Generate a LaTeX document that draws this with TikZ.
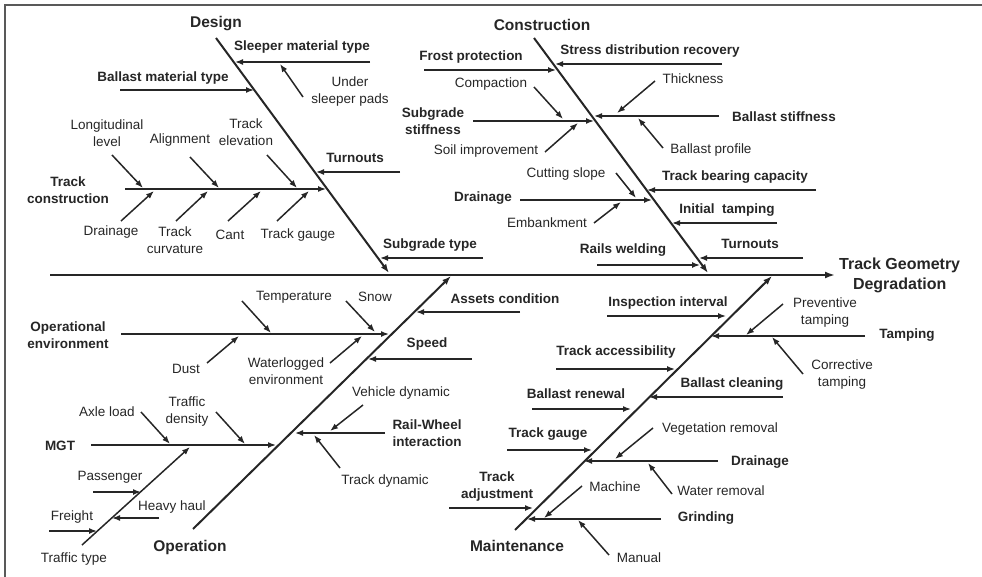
\documentclass[tikz,border=0pt]{standalone}
\usepackage{fontspec}
\setmainfont{Liberation Sans}
\usetikzlibrary{arrows.meta}
\definecolor{ink}{gray}{0.15}

\begin{document}
\begin{tikzpicture}[x=1pt,y=-1pt]

  \tikzset{
    spine/.style  = {line width=2.2pt, draw=ink, -{Latex[length=10pt,width=7pt]}},
    bone/.style   = {line width=2pt, draw=ink, -{Latex[length=9pt,width=6.5pt]}},
    cause/.style  = {line width=1.5pt, draw=ink, -{Latex[length=8pt,width=6pt]}},
    effect/.style = {font=\fontsize{16}{20}\selectfont\bfseries, align=center,
                     text=ink, inner sep=0pt},
    cat/.style    = {font=\fontsize{15.5}{18}\selectfont\bfseries, text=ink,
                     inner sep=0pt},
    big/.style    = {font=\fontsize{13.5}{17}\selectfont\bfseries, align=center,
                     text=ink, inner sep=0pt},
    small/.style  = {font=\fontsize{13.5}{17}\selectfont, align=center,
                     text=ink, inner sep=0pt},
  }

  \useasboundingbox (0,0) rectangle (982,577);
  \draw[line width=1.5pt, black!65] (5,577) -- (5,5) -- (982,5);

  % ---- spine and effect -------------------------------------------------
  \coordinate (tail) at (50,275);
  \coordinate (head) at (835,275);
  \draw[spine] (tail) -- (head);
  \node[effect,anchor=west] (effect) at (839,275) {Track Geometry\\Degradation};

  % ---- the four bones ---------------------------------------------------
  \foreach \n/\a/\b/\t/\p in {%
    design/{216,38}/{389,273}/Design/{216,24},
    constr/{534,38}/{708,273}/Construction/{542,25},
    oper/{193,529}/{451,276}/Operation/{190,547},
    maint/{515,530}/{772,276}/Maintenance/{517,546}%
  }{
    \coordinate (\n-s) at (\a);
    \coordinate (\n-e) at (\b);
    \draw[bone] (\n-s) -- (\n-e);
    \node[cat] (\n) at (\p) {\t};
  }

  % ---- main causes (bold) -----------------------------------------------
  \foreach \n/\a/\b/\t/\p in {%
    slpmat/{370,62}/{235,62}/{Sleeper material type}/{302,47},
    blsmat/{120,90}/{254,90}/{Ballast material type}/{163,78},
    turn-d/{400,172}/{316,172}/{Turnouts}/{355,158},
    trkcon/{125,189}/{326,189}/{Track\\construction}/{68,190},
    sgtype/{483,258}/{380,258}/{Subgrade type}/{430,245},
    stress/{722,64}/{555,64}/{Stress distribution recovery}/{650,51},
    frost/{424,70}/{556,70}/{Frost protection}/{471,57},
    sgstiff/{473,121}/{594,121}/{Subgrade\\stiffness}/{433,121},
    blstiff/{719,116}/{594,116}/{Ballast stiffness}/{784,117},
    drain-c/{520,200}/{652,200}/{Drainage}/{483,198},
    bearing/{816,190}/{647,190}/{Track bearing capacity}/{735,177},
    inittamp/{777,223}/{672,223}/{Initial\ \ tamping}/{727,210},
    turn-c/{803,258}/{699,258}/{Turnouts}/{750,244},
    welding/{597,265}/{700,265}/{Rails welding}/{623,250},
    assets/{520,312}/{416,312}/{Assets condition}/{505,299},
    speed/{472,359}/{368,359}/{Speed}/{427,344},
    openv/{121,334}/{389,334}/{Operational\\environment}/{68,335},
    mgt/{91,445}/{276,445}/{MGT}/{60,446},
    railwh/{385,433}/{295,433}/{Rail-Wheel\\interaction}/{427,433},
    inspect/{607,316}/{726,316}/{Inspection interval}/{668,303},
    tamping/{865,336}/{711,336}/{Tamping}/{907,335},
    access/{556,369}/{675,369}/{Track accessibility}/{616,352},
    bclean/{783,397}/{649,397}/{Ballast cleaning}/{732,384},
    brenew/{532,409}/{631,409}/{Ballast renewal}/{576,394},
    gauge-m/{507,450}/{592,450}/{Track gauge}/{548,434},
    drain-m/{718,461}/{584,461}/{Drainage}/{760,462},
    adjust/{449,508}/{533,508}/{Track\\adjustment}/{497,487},
    grind/{661,519}/{527,519}/{Grinding}/{706,518}%
  }{
    \coordinate (\n-s) at (\a);
    \coordinate (\n-e) at (\b);
    \draw[cause] (\n-s) -- (\n-e);
    \node[big] (\n) at (\p) {\t};
  }

  % traffic type is a small bone of its own
  \coordinate (ttype-s) at (82,545);
  \coordinate (ttype-e) at (190,447);
  \draw[cause] (ttype-s) -- (ttype-e);
  \node[small] (ttype) at (74,559) {Traffic type};

  % ---- sub causes (regular) ---------------------------------------------
  \foreach \n/\a/\b/\t/\p in {%
    usp/{303,97}/{280,64}/{Under\\sleeper pads}/{350,92},
    longlev/{112,155}/{143,188}/{Longitudinal\\level}/{107,133},
    align/{190,157}/{219,188}/{Alignment}/{180,140},
    elev/{267,155}/{297,188}/{Track\\elevation}/{246,132},
    drain-d/{121,221}/{154,191}/{Drainage}/{111,232},
    curv/{176,221}/{208,191}/{Track\\curvature}/{175,240},
    cant/{228,221}/{261,191}/{Cant}/{230,235},
    gauge-d/{277,221}/{309,191}/{Track gauge}/{298,235},
    compact/{534,87}/{563,119}/{Compaction}/{491,84},
    soil/{545,152}/{578,123}/{Soil improvement}/{486,151},
    thick/{655,81}/{617,113}/{Thickness}/{693,79},
    bprof/{663,148}/{638,118}/{Ballast profile}/{711,150},
    cut/{616,173}/{636,198}/{Cutting slope}/{566,174},
    embank/{594,223}/{621,202}/{Embankment}/{547,223},
    temp/{242,301}/{271,333}/{Temperature}/{294,297},
    snow/{346,301}/{375,332}/{Snow}/{375,297},
    dust/{207,363}/{239,336}/{Dust}/{186,369},
    waterlog/{330,363}/{362,336}/{Waterlogged\\environment}/{286,371},
    axle/{141,412}/{170,444}/{Axle load}/{107,412},
    density/{216,412}/{245,444}/{Traffic\\density}/{187,412},
    vdyn/{363,405}/{330,431}/{Vehicle dynamic}/{401,393},
    tdyn/{340,468}/{314,435}/{Track dynamic}/{385,481},
    passeng/{93,492}/{141,492}/{Passenger}/{110,477},
    heavy/{159,518}/{112,518}/{Heavy haul}/{172,507},
    freight/{49,531}/{97,531}/{Freight}/{72,517},
    prevt/{783,304}/{746,335}/{Preventive\\tamping}/{825,313},
    corrt/{803,374}/{772,337}/{Corrective\\tamping}/{842,375},
    veget/{653,428}/{615,459}/{Vegetation removal}/{720,429},
    wrem/{672,494}/{648,463}/{Water removal}/{721,491},
    machine/{582,486}/{544,518}/{Machine}/{615,487},
    manual/{609,555}/{578,520}/{Manual}/{639,558}%
  }{
    \coordinate (\n-s) at (\a);
    \coordinate (\n-e) at (\b);
    \draw[cause] (\n-s) -- (\n-e);
    \node[small] (\n) at (\p) {\t};
  }

\end{tikzpicture}
\end{document}
